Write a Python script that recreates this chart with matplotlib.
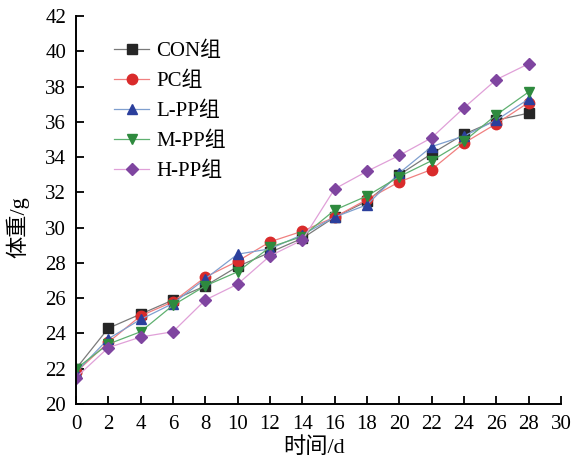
import matplotlib
matplotlib.use("Agg")
import matplotlib.pyplot as plt

plt.rcParams['font.family'] = ['Liberation Serif', 'Noto Sans CJK SC']

days = [0, 2, 4, 6, 8, 10, 12, 14, 16, 18, 20, 22, 24, 26, 28]
con = [22.0, 24.3, 25.1, 25.9, 26.7, 27.8, 28.6, 29.4, 30.6, 31.5, 33.0, 34.2, 35.3, 36.1, 36.5]
pc = [21.8, 23.5, 25.0, 25.8, 27.2, 28.1, 29.2, 29.8, 30.6, 31.6, 32.6, 33.3, 34.8, 35.9, 37.1]
lpp = [21.8, 23.7, 24.8, 25.7, 27.1, 28.5, 28.8, 29.6, 30.6, 31.3, 33.1, 34.6, 35.2, 36.1, 37.3]
mpp = [22.0, 23.4, 24.1, 25.6, 26.7, 27.5, 28.9, 29.5, 31.0, 31.8, 32.9, 33.8, 34.9, 36.4, 37.7]
hpp = [21.5, 23.2, 23.8, 24.1, 25.9, 26.8, 28.4, 29.3, 32.2, 33.2, 34.1, 35.1, 36.8, 38.4, 39.3]

labels = ['CON组', 'PC组', 'L-PP组', 'M-PP组', 'H-PP组']
series = [con, pc, lpp, mpp, hpp]
markers = ['s', 'o', '^', 'v', 'D']
mcolors = ['#262626', '#d92b2b', '#2b3f9c', '#2e8a3e', '#7f45a0']
lcolors = ['#7a7a7a', '#f08080', '#7f9fcf', '#5fb070', '#e0a0d8']
msizes = [6.5, 7.5, 7.5, 7.5, 6.5]

fig = plt.figure(figsize=(5.73, 4.61), dpi=100)
ax = fig.add_axes([0.1326, 0.1236, 0.8464, 0.8414])

for y, lab, m, mc, lc, ms in zip(series, labels, markers, mcolors, lcolors, msizes):
    ax.plot(days, y, color=lc, lw=0.9, marker=m, markersize=ms,
            markerfacecolor=mc, markeredgecolor=mc, label=lab)

ax.set_xlim(0, 30)
ax.set_ylim(20, 42)
ax.set_xticks(range(0, 31, 2))
ax.set_yticks(range(20, 43, 2))
ax.spines['top'].set_visible(False)
ax.spines['right'].set_visible(False)
for s in ['left', 'bottom']:
    ax.spines[s].set_linewidth(1.4)
ax.tick_params(direction='in', length=5.5, width=1.3, labelsize=15)
ax.tick_params(axis='x', pad=8)
ax.tick_params(axis='y', pad=7)

ax.set_xlabel('时间/d', fontsize=16)
ax.set_ylabel('体重/g', fontsize=16)
ax.xaxis.set_label_coords(0.49, -0.085)
ax.yaxis.set_label_coords(-0.097, 0.456)

leg = ax.legend(loc='upper left', bbox_to_anchor=(0.078, 0.935), frameon=False,
                fontsize=15, handlelength=1.7, labelspacing=0.5,
                handletextpad=0.35, borderaxespad=0, borderpad=0)

fig.savefig('out.png', dpi=100)
